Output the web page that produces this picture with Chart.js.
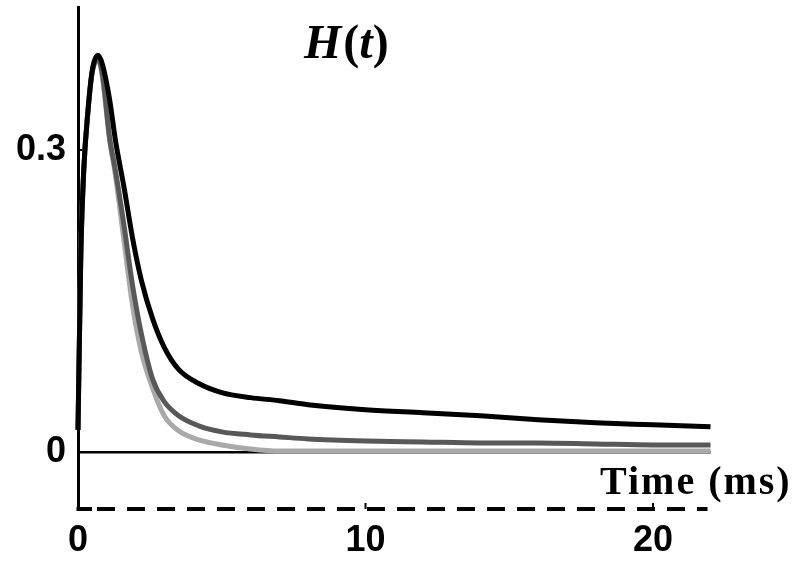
<!DOCTYPE html>
<html>
<head>
<meta charset="utf-8">
<script src="https://cdn.jsdelivr.net/npm/chart.js@4/dist/chart.umd.min.js"></script>
<style>
  html, body { margin: 0; padding: 0; background: #fff; }
  #chart { display: block; }
</style>
</head>
<body>
<canvas id="chart" width="800" height="566"></canvas>
<script>
// time points (ms)
const TIMES = [0, 0.1, 0.2, 0.35, 0.5, 0.7, 0.85, 1.1, 1.3, 1.6, 1.9, 2.2, 2.6, 3.0, 3.5, 4.2, 5.0, 6.0, 7, 8, 10, 12, 14, 16, 18, 20, 22];

// H(t) for the three curves
const H_BLACK = [0.022, 0.20, 0.28, 0.34, 0.38, 0.394, 0.385, 0.35, 0.31, 0.263, 0.212, 0.171, 0.132, 0.104, 0.082, 0.068, 0.059, 0.054, 0.051, 0.047, 0.042, 0.039, 0.036, 0.032, 0.029, 0.027, 0.025];
const H_DARK  = [0.022, 0.20, 0.28, 0.34, 0.378, 0.39, 0.375, 0.312, 0.28, 0.225, 0.165, 0.118, 0.072, 0.05, 0.036, 0.026, 0.02, 0.017, 0.015, 0.013, 0.011, 0.010, 0.009, 0.009, 0.008, 0.007, 0.007];
const H_LIGHT = [0.022, 0.20, 0.28, 0.34, 0.378, 0.39, 0.372, 0.31, 0.275, 0.21, 0.145, 0.10, 0.063, 0.036, 0.021, 0.012, 0.007, 0.003, 0.001, 0.001, 0.001, 0.001, 0.001, 0.001, 0.001, 0.001, 0.001];

const Y_TICKS = [0, 0.3];
const X_TICKS = [0, 10, 20];

function toPoints(values) {
    return TIMES.map(function(t, i) { return { x: t, y: values[i] }; });
}

function series(values, color) {
    return {
        data: toPoints(values),
        borderColor: color,
        borderWidth: 5,
        pointRadius: 0,
        cubicInterpolationMode: "monotone",
        fill: false,
        clip: false
    };
}

function noPadding(s) {
    s.paddingTop = 0; s.paddingBottom = 0; s.paddingLeft = 0; s.paddingRight = 0;
}

const tickFont = { family: "'Liberation Sans', Arial, sans-serif", size: 36, weight: "bold" };

// dashed bottom axis, small ticks, and the two titles
const labelsPlugin = {
    id: "labels",
    beforeDatasetsDraw: function(chart) {
        var ctx = chart.ctx;
        var area = chart.chartArea;
        var xs = chart.scales.x;
        var ys = chart.scales.y;
        ctx.save();
        ctx.strokeStyle = "#000";
        ctx.lineWidth = 4;
        ctx.setLineDash([18, 12]);
        ctx.lineDashOffset = 11;
        ctx.beginPath();
        ctx.moveTo(area.left, area.bottom);
        ctx.lineTo(area.right - 3, area.bottom);
        ctx.stroke();
        ctx.setLineDash([]);
        ctx.beginPath();
        ctx.moveTo(area.left - 1.5, area.bottom);
        ctx.lineTo(area.left + 14, area.bottom);
        ctx.stroke();
        ctx.lineWidth = 2;
        X_TICKS.slice(1).forEach(function(v) {
            var px = xs.getPixelForValue(v);
            ctx.beginPath();
            ctx.moveTo(px, area.bottom);
            ctx.lineTo(px, area.bottom - 6);
            ctx.stroke();
        });
        var py = ys.getPixelForValue(0.3);
        ctx.beginPath();
        ctx.moveTo(area.left, py);
        ctx.lineTo(area.left + 5, py);
        ctx.stroke();
        ctx.restore();
    },
    afterDraw: function(chart) {
        var ctx = chart.ctx;
        ctx.save();
        ctx.fillStyle = "#000";
        ctx.textBaseline = "alphabetic";

        var parts = [
            ["H", "italic bold 48px 'Liberation Serif', serif"],
            ["(", "bold 48px 'Liberation Serif', serif"],
            ["t", "italic bold 48px 'Liberation Serif', serif"],
            [")", "bold 48px 'Liberation Serif', serif"]
        ];
        var x = 304;
        parts.forEach(function(p) {
            ctx.font = p[1];
            ctx.fillText(p[0], x, 58);
            x += ctx.measureText(p[0]).width + (p[0] === "H" ? 2 : 0);
        });

        ctx.font = "bold 40px 'Liberation Serif', serif";
        ctx.letterSpacing = "2px";
        ctx.fillText("Time (ms)", 600, 494);
        ctx.restore();
    }
};

new Chart(document.getElementById("chart"), {
    type: "line",
    data: {
        datasets: [
            series(H_BLACK, "#000000"),
            series(H_DARK, "#585858"),
            series(H_LIGHT, "#a9a9a9")
        ]
    },
    options: {
        responsive: false,
        animation: false,
        layout: { padding: { top: 7, right: 89.5, left: 0, bottom: 0 } },
        plugins: { legend: { display: false }, tooltip: { enabled: false } },
        scales: {
            x: {
                type: "linear",
                min: 0,
                max: 22,
                afterBuildTicks: function(s) { s.ticks = X_TICKS.map(function(v) { return { value: v }; }); },
                afterFit: function(s) { s.height = 57; noPadding(s); },
                grid: { display: false, drawTicks: false },
                border: { display: false },
                ticks: { color: "#000", font: tickFont, padding: 10, maxRotation: 0 }
            },
            y: {
                min: -0.0566,
                max: 0.442,
                afterBuildTicks: function(s) { s.ticks = Y_TICKS.map(function(v) { return { value: v }; }); },
                afterFit: function(s) { s.width = 78; noPadding(s); },
                grid: {
                    drawTicks: false,
                    lineWidth: 2.5,
                    color: function(c) { return c.tick && c.tick.value === 0 ? "#000" : "rgba(0,0,0,0)"; }
                },
                border: { display: true, color: "#000", width: 3 },
                ticks: {
                    color: "#000",
                    font: tickFont,
                    padding: 12,
                    callback: function(v) { return v === 0 ? "0" : String(v); }
                }
            }
        }
    },
    plugins: [labelsPlugin]
});
</script>
</body>
</html>
